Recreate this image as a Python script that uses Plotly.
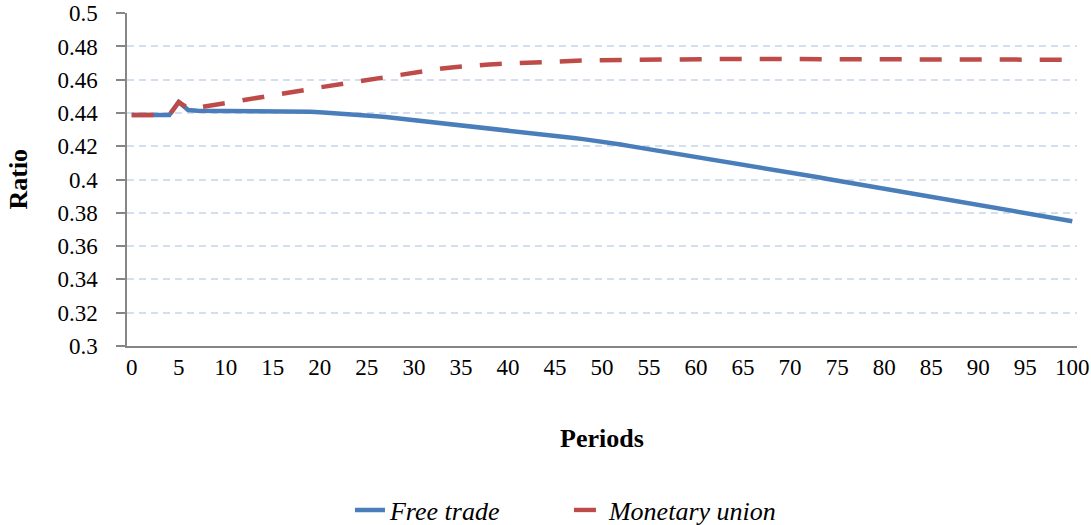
import plotly.graph_objects as go

periods = list(range(0, 101))

free_trade = [
    0.4388, 0.4388, 0.4388, 0.4388, 0.4388, 0.4466, 0.4418, 0.4413, 0.4413, 0.4413,
    0.4413, 0.4412, 0.4412, 0.4412, 0.4411, 0.4411, 0.4410, 0.4409, 0.4408, 0.4407,
    0.4405, 0.4402, 0.4398, 0.4394, 0.4389, 0.4385, 0.4381, 0.4376, 0.4370, 0.4364,
    0.4358, 0.4352, 0.4346, 0.4340, 0.4334, 0.4328, 0.4322, 0.4315, 0.4309, 0.4302,
    0.4296, 0.4290, 0.4284, 0.4278, 0.4271, 0.4264, 0.4257, 0.4250, 0.4243, 0.4236,
    0.4229, 0.4220, 0.4211, 0.4201, 0.4192, 0.4182, 0.4173, 0.4163, 0.4154, 0.4144,
    0.4134, 0.4125, 0.4115, 0.4106, 0.4097, 0.4087, 0.4078, 0.4069, 0.4060, 0.4051,
    0.4042, 0.4033, 0.4024, 0.4014, 0.4004, 0.3994, 0.3984, 0.3974, 0.3964, 0.3955,
    0.3945, 0.3935, 0.3926, 0.3916, 0.3907, 0.3897, 0.3888, 0.3878, 0.3869, 0.3859,
    0.3850, 0.3840, 0.3830, 0.3820, 0.3810, 0.3800, 0.3790, 0.3780, 0.3770, 0.3760,
    0.3750,
]

monetary_union = [
    0.4388, 0.4388, 0.4388, 0.4388, 0.4388, 0.4466, 0.4428, 0.4432, 0.4441, 0.4450,
    0.4459, 0.4467, 0.4475, 0.4484, 0.4493, 0.4504, 0.4514, 0.4524, 0.4534, 0.4544,
    0.4554, 0.4563, 0.4573, 0.4582, 0.4592, 0.4601, 0.4610, 0.4619, 0.4628, 0.4637,
    0.4645, 0.4653, 0.4661, 0.4668, 0.4674, 0.4680, 0.4684, 0.4688, 0.4692, 0.4695,
    0.4698, 0.4701, 0.4704, 0.4707, 0.4709, 0.4711, 0.4713, 0.4714, 0.4716, 0.4717,
    0.4718, 0.4719, 0.4720, 0.4721, 0.4721, 0.4722, 0.4722, 0.4723, 0.4723, 0.4723,
    0.4724, 0.4724, 0.4724, 0.4724, 0.4725, 0.4725, 0.4725, 0.4725, 0.4725, 0.4725,
    0.4725, 0.4725, 0.4725, 0.4725, 0.4725, 0.4725, 0.4725, 0.4725, 0.4725, 0.4724,
    0.4724, 0.4724, 0.4724, 0.4724, 0.4723, 0.4723, 0.4723, 0.4723, 0.4723, 0.4722,
    0.4722, 0.4722, 0.4722, 0.4721, 0.4721, 0.4721, 0.4721, 0.4720, 0.4720, 0.4720,
    0.4720,
]

x_tick_vals = list(range(0, 101, 5))
x_tick_text = [str(v) for v in x_tick_vals]
y_tick_vals = [0.30, 0.32, 0.34, 0.36, 0.38, 0.40, 0.42, 0.44, 0.46, 0.48, 0.50]
y_tick_text = ["0.3", "0.32", "0.34", "0.36", "0.38", "0.4", "0.42", "0.44", "0.46", "0.48", "0.5"]

FONT = "Liberation Serif"
BLUE = "#4A7EBB"
RED = "#BE4B48"
AXIS = "#868686"
GRID = "#D3DEF0"

fig = go.Figure()
fig.add_trace(go.Scatter(
    x=periods, y=free_trade, name="Free trade", mode="lines",
    line=dict(color=BLUE, width=4.5),
))
fig.add_trace(go.Scatter(
    x=periods, y=monetary_union, name="Monetary union", mode="lines",
    line=dict(color=RED, width=4.5, dash="22px,18px"),
))

fig.update_layout(
    template="none",
    width=1091, height=525,
    margin=dict(l=127, r=14, t=13, b=179, autoexpand=False),
    paper_bgcolor="white", plot_bgcolor="white",
    font=dict(family=FONT, color="black", size=23),
    showlegend=True,
    legend=dict(
        orientation="h", xref="paper", yref="paper",
        x=0.2347, xanchor="left", y=-0.4925, yanchor="middle",
        font=dict(family=FONT, size=26, style="italic", color="black"),
        bgcolor="rgba(0,0,0,0)",
        entrywidth=174,
    ),
    xaxis=dict(
        range=[-0.5, 100.5], tickmode="array",
        tickvals=x_tick_vals, ticktext=x_tick_text,
        showgrid=False, zeroline=False, automargin=False,
        showline=True, linecolor=AXIS, linewidth=1.5,
        ticks="", ticklabelstandoff=0,
        tickfont=dict(family=FONT, size=23),
    ),
    yaxis=dict(
        range=[0.3, 0.5001], tickmode="array",
        tickvals=y_tick_vals, ticktext=y_tick_text,
        showgrid=True, gridcolor=GRID, gridwidth=1.5, griddash="7px,5px",
        zeroline=False, automargin=False,
        showline=True, linecolor=AXIS, linewidth=1.5,
        ticks="outside", ticklen=9, tickcolor=AXIS, tickwidth=1.5,
        ticklabelstandoff=14,
        tickfont=dict(family=FONT, size=23),
    ),
    annotations=[
        dict(text="<b>Ratio</b>", xref="paper", yref="paper",
             x=-0.1147, y=0.5, xanchor="center", yanchor="middle",
             textangle=-90, showarrow=False,
             font=dict(family=FONT, size=26, color="black")),
        dict(text="<b>Periods</b>", xref="paper", yref="paper",
             x=0.5, y=-0.2763, xanchor="center", yanchor="middle",
             showarrow=False,
             font=dict(family=FONT, size=26, color="black")),
    ],
)

# remove the browser's default 8px body margin so the figure fills the window
fig.write_html("out.html", config={"displayModeBar": False},
               post_script="document.body.style.margin='0';")
